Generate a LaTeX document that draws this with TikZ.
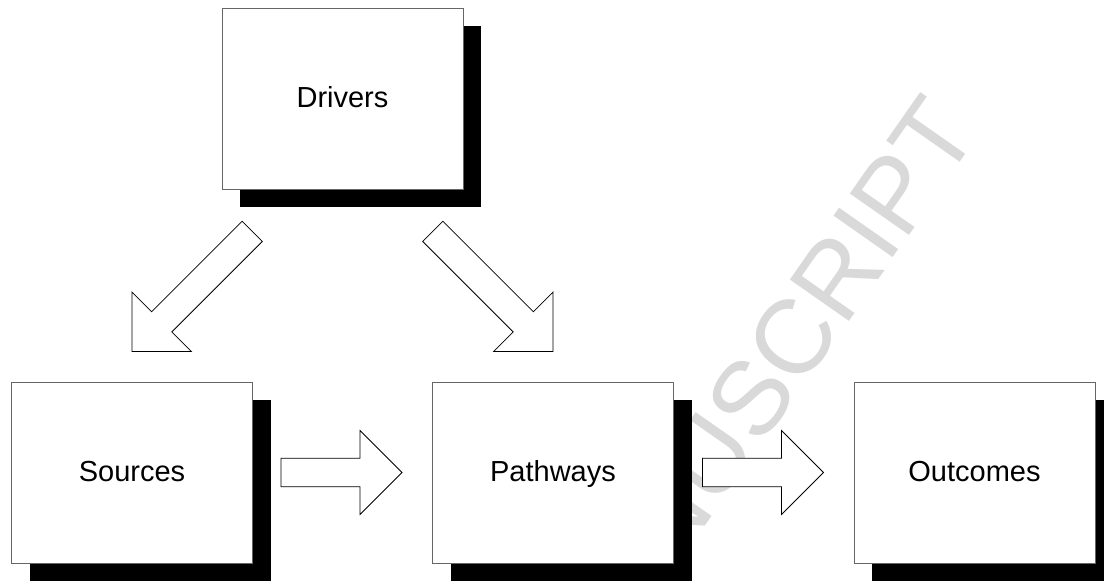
\documentclass[tikz,border=0pt]{standalone}
\usepackage{fontspec}
\setmainfont{Liberation Sans}
\usetikzlibrary{calc,shadows}
\tikzset{
  box/.style={draw=black!60, line width=0.9pt, fill=white, minimum width=241pt, minimum height=181pt,
    inner sep=0pt, text height=18pt, text depth=0pt, font=\fontsize{29}{34}\selectfont,
    drop shadow={shadow xshift=18pt, shadow yshift=-18pt, fill=black, opacity=1}},
  arrowline/.style={draw=black, line width=0.8pt, fill=white, line join=miter},
  watermark/.style={text=black!15, font=\fontsize{105}{110}\selectfont, inner sep=0pt},
  pics/blockarrow/.style={code={
    \draw[arrowline] (0,0) -- (-42,42) -- (-42,14.3) -- (-#1,14.3) -- (-#1,-14.3) -- (-42,-14.3) -- (-42,-42) -- cycle;}}
}
\begin{document}
\begin{tikzpicture}[x=1pt,y=-1pt]
\useasboundingbox (0,0) rectangle (1104,581);
\clip (0,0) rectangle (1104,581);
\fill[white] (0,0) rectangle (1104,581);
% watermark
\node[watermark, rotate=55, anchor=base east] (wm) at (981.4,131.8) {ACCEPTED MANUSCRIPT};
% boxes
\node[box] (drivers) at (342.5,98.5) {Drivers};
\node[box] (sources) at (132,472.5) {Sources};
\node[box] (pathways) at (553,472.5) {Pathways};
\node[box] (outcomes) at (974.5,472.5) {Outcomes};
% block arrows
\pic[rotate=225] at ($(sources.north)+(0,-30)$) {blockarrow=170};
\pic[rotate=-45] at ($(pathways.north)+(0,-30)$) {blockarrow=170};
\pic at ($(pathways.west)+(-30,0)$) {blockarrow=121};
\pic at ($(outcomes.west)+(-30,0)$) {blockarrow=121};
\end{tikzpicture}
\end{document}
